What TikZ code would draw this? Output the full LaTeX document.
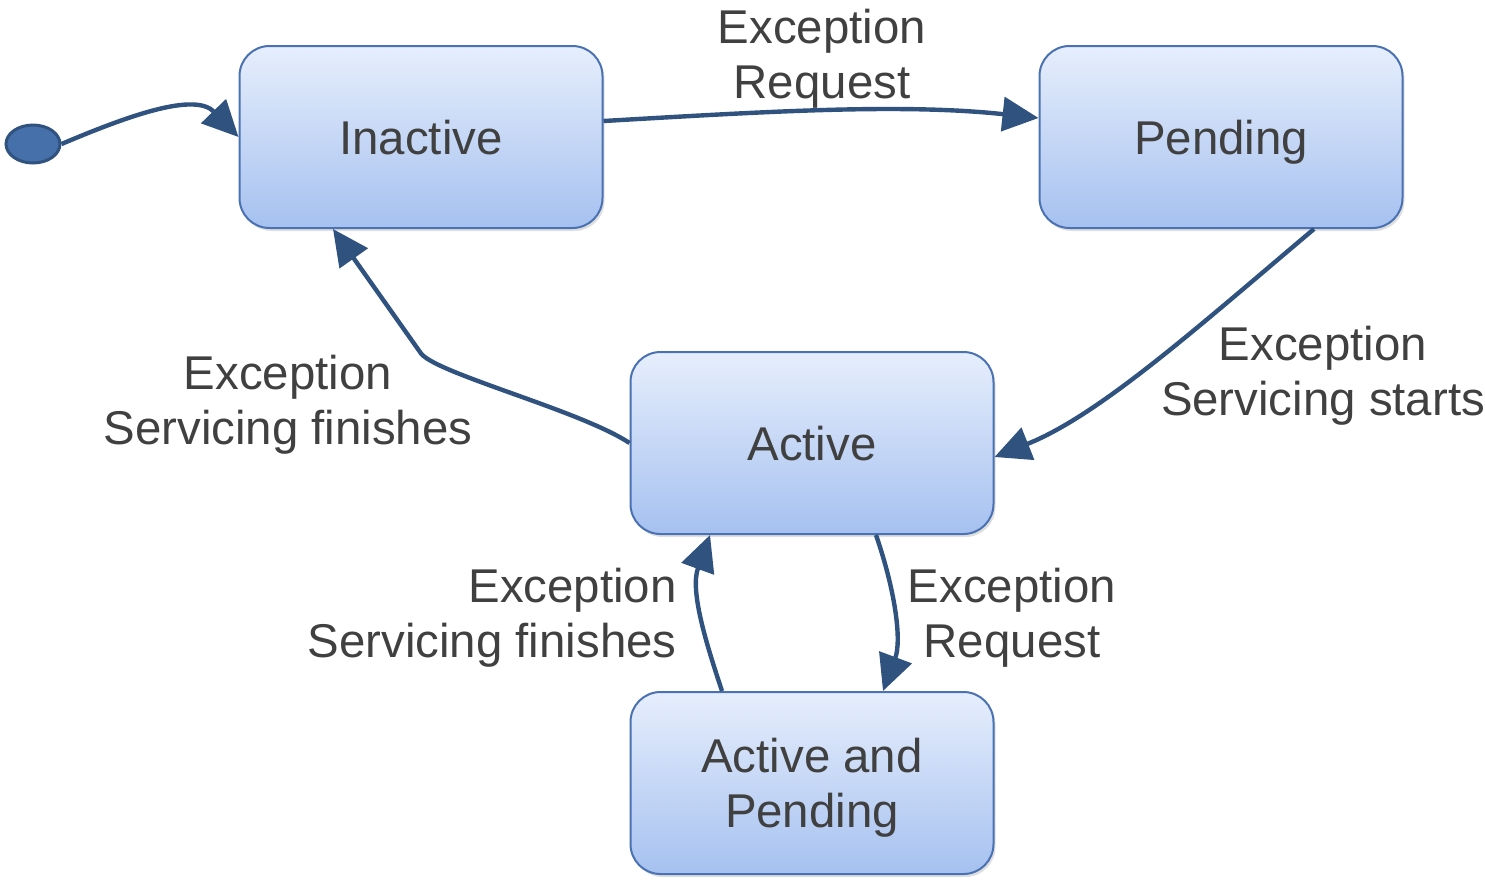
\documentclass[tikz,border=0pt]{standalone}
\usepackage{fontspec}
\setmainfont{Liberation Sans}
\usetikzlibrary{arrows.meta,shadows,shapes.geometric}
\definecolor{boxtop}{HTML}{E6EEFC}
\definecolor{boxbot}{HTML}{A6C1F0}
\definecolor{boxline}{HTML}{4A72B2}
\definecolor{arrowcol}{HTML}{30527F}
\definecolor{dotfill}{HTML}{4570AA}
\definecolor{txt}{HTML}{404040}
\newcommand{\statefont}{\fontsize{23.7}{27.5}\selectfont}

\begin{document}
\begin{tikzpicture}[x=0.5pt,y=-0.5pt]
\tikzstyle{state}=[rectangle,rounded corners=15pt,draw=boxline,line width=1pt,top color=boxtop,bottom color=boxbot,minimum width=181.5pt,minimum height=91pt,align=center,text=txt,font=\statefont,text depth=0pt,drop shadow={opacity=0.25,shadow xshift=1pt,shadow yshift=-1.5pt}]
\tikzstyle{trans}=[draw=arrowcol,line width=2.2pt,-{Triangle[length=18pt,width=17pt]}]
\tikzstyle{lbl}=[text=txt,font=\statefont,align=center,inner sep=0pt]
\useasboundingbox (0,0) rectangle (1485,880);
\foreach \name/\point/\txt in {
	inactive/{421,137}/Inactive,
	pending/{1221,137}/Pending,
	active/{812,443}/Active,
	both/{812,783}/{Active and\\Pending}}
	\node[state] (\name) at (\point) {\txt};
\node[ellipse,draw=arrowcol,fill=dotfill,line width=1.5pt,minimum width=27pt,minimum height=19pt,inner sep=0pt] (init) at (33,144) {};
% transitions
\draw[trans] (init.east) .. controls (130,115) and (195,92) .. (inactive.west);
\draw[trans] ([yshift=8pt]inactive.east) .. controls (760,112) and (900,103) .. ([yshift=9.5pt]pending.west);
\draw[trans] ([xshift=46.5pt]pending.south) .. controls (1200,325) and (1100,415) .. ([yshift=-7pt]active.east);
\draw[trans] (active.west) .. controls (580,410) and (430,372) .. (420,352) -- ([xshift=-44pt]inactive.south);
\draw[trans] ([xshift=32pt]active.south) .. controls (895,590) and (902,640) .. ([xshift=35.5pt]both.north);
\draw[trans] ([xshift=-45pt]both.north) .. controls (705,640) and (690,590) .. ([xshift=-51pt]active.south);
% labels
\node[lbl] (reqtop) at (822,59) {Exception\\Request};
\node[lbl] (starts) at (1323,376) {Exception\\Servicing starts};
\node[lbl] (finleft) at (288,405) {Exception\\Servicing finishes};
\node[lbl,align=right,anchor=east] (finlow) at (677,618) {Exception\\Servicing finishes};
\node[lbl] (reqlow) at (1012,618) {Exception\\Request};
\end{tikzpicture}
\end{document}
